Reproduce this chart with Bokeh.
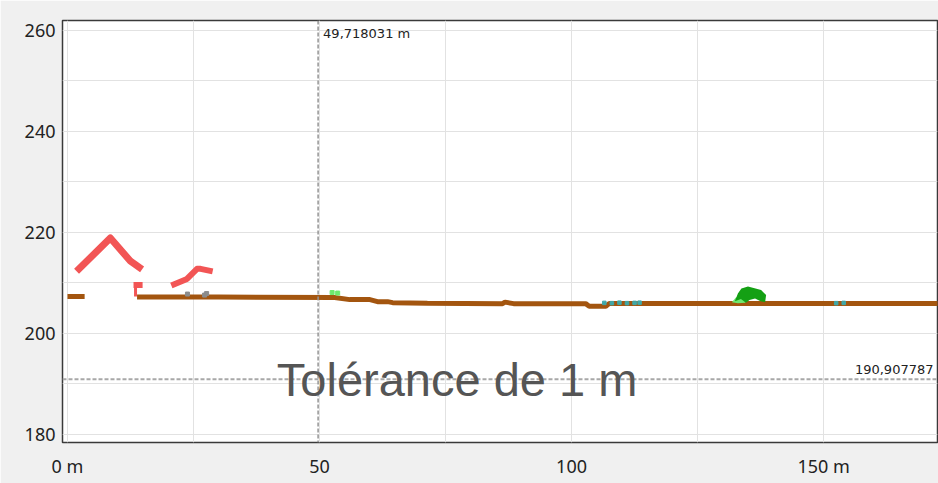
from bokeh.plotting import figure
from bokeh.models import Range1d, FixedTicker, Span, Label
from bokeh.embed import file_html
from bokeh.resources import INLINE

# ---- data ----
X_TICKS = [0, 50, 100, 150]
X_TICK_LABELS = {0: "0 m", 50: "50", 100: "100", 150: "150 m"}
X_GRID = [0, 25, 50, 75, 100, 125, 150, 175]
Y_TICKS = [180, 200, 220, 240, 260]
Y_GRID = [180, 190, 200, 210, 220, 230, 240, 250, 260]

CURSOR_X = 49.718031
CURSOR_LABEL = "49,718031 m"
TOL_Y = 190.907787
TOL_LABEL = "190,907787"
TITLE = "Tolérance de 1 m"

# ground (brown) – two pieces
GROUND_A_X = [0.0, 3.4]
GROUND_A_Y = [207.3, 207.3]
GROUND_X = [13.8, 30.0, 53.0, 56.0, 60.0, 61.5, 63.5, 64.5, 71.4, 86.3, 86.8,
            88.5, 102.8, 103.5, 106.8, 107.5, 133.0, 138.5, 174.0]
GROUND_Y = [207.2, 207.2, 207.1, 206.7, 206.7, 206.3, 206.3, 206.1, 206.0, 205.9, 206.2,
            205.9, 205.9, 205.4, 205.4, 205.95, 205.95, 205.95, 205.95]

# buildings (red)
ROOF1_X = [1.8, 8.5, 12.5, 14.8]
ROOF1_Y = [212.3, 218.9, 214.3, 212.7]
ROOF2_X = [20.6, 23.7, 25.7, 26.4, 28.8]
ROOF2_Y = [209.5, 210.8, 212.8, 212.8, 212.3]
WALL_X = [13.5, 13.5]
WALL_Y = [209.2, 207.3]
WALL_BLOCK = dict(left=13.1, right=14.9, bottom=209.0, top=210.2)

# tree (greens)
TREE_X = [132.4, 133.0, 133.7, 135.0, 136.5, 137.6, 138.6, 138.4, 137.5, 136.4, 135.3, 134.6, 133.6]
TREE_Y = [206.4, 207.9, 208.9, 209.3, 208.9, 208.6, 207.6, 206.2, 206.4, 206.9, 206.6, 206.1, 206.8]
LEAF_X = [131.8, 132.6, 133.6, 134.6, 134.5, 133.0]
LEAF_Y = [206.2, 207.1, 207.4, 206.9, 206.1, 206.0]

# scattered points
GRAY_X = [23.8, 27.2, 27.6]
GRAY_Y = [207.8, 207.6, 207.9]
LGREEN_X = [52.5, 53.6]
LGREEN_Y = [208.1, 208.0]
TEAL_X = [106.5, 108.0, 109.5, 111.0, 112.5, 113.5, 152.5, 154.0]
TEAL_Y = [206.05, 206.0, 206.1, 206.0, 206.05, 206.1, 206.0, 206.05]

BROWN = "#a3550f"
RED = "#f25555"
DARK_GREEN = "#14a014"
LIGHT_GREEN = "#6ee86e"
TEAL = "#3fa8a8"
GRAY = "#8c8c8c"

p = figure(width=938, height=483, output_backend="svg", toolbar_location=None,
           x_range=Range1d(-0.99, 172.6), y_range=Range1d(178.4, 261.98),
           min_border_left=62, min_border_top=20, min_border_right=1, min_border_bottom=41,
           background_fill_color="white", border_fill_color="#f0f0f0",
           outline_line_color="#3a3a3a", outline_line_width=1.5)

# axes
for ax in (p.xaxis[0], p.yaxis[0]):
    ax.axis_line_color = None
    ax.major_tick_out = 0
    ax.major_tick_in = 0
    ax.minor_tick_out = 0
    ax.minor_tick_in = 0
    ax.major_label_text_font = "Noto Sans"
    ax.major_label_text_font_size = "18px"
    ax.major_label_text_color = "#222222"
p.xaxis.ticker = FixedTicker(ticks=X_TICKS)
p.xaxis.major_label_overrides = X_TICK_LABELS
p.xaxis.major_label_standoff = 11
p.yaxis.ticker = FixedTicker(ticks=Y_TICKS)
p.yaxis.major_label_standoff = 7

p.xgrid.ticker = FixedTicker(ticks=X_GRID)
p.ygrid.ticker = FixedTicker(ticks=Y_GRID)
p.xgrid.grid_line_color = "#e2e2e2"
p.ygrid.grid_line_color = "#e2e2e2"

# data
p.line(GROUND_A_X, GROUND_A_Y, line_width=5, color=BROWN, line_cap="butt")
p.line(GROUND_X, GROUND_Y, line_width=5, color=BROWN, line_cap="butt")
p.scatter(GRAY_X, GRAY_Y, marker="square", size=4, color=GRAY)
p.scatter(LGREEN_X, LGREEN_Y, marker="square", size=4, color=LIGHT_GREEN)
p.scatter(TEAL_X, TEAL_Y, marker="square", size=3.5, color=TEAL)

p.line(ROOF1_X, ROOF1_Y, line_width=7, color=RED, line_join="round")
p.line(ROOF2_X, ROOF2_Y, line_width=6, color=RED, line_join="round")
p.line(WALL_X, WALL_Y, line_width=3, color=RED)
p.quad(color=RED, line_color=None, **{k: [v] for k, v in WALL_BLOCK.items()})

p.patch(LEAF_X, LEAF_Y, color=LIGHT_GREEN, line_color=None)
p.patch(TREE_X, TREE_Y, color=DARK_GREEN, line_color=None)

# cursor lines
p.add_layout(Span(location=CURSOR_X, dimension="height", line_color="#949494",
                  line_width=1.5, line_dash="4 2"))
p.add_layout(Span(location=TOL_Y, dimension="width", line_color="#a8a8a8",
                  line_width=2, line_dash="4 2"))
p.add_layout(Label(x=CURSOR_X, y=p.y_range.end, x_offset=5, y_offset=-5,
                   text=CURSOR_LABEL, text_baseline="top", text_align="left",
                   text_font="DejaVu Sans", text_font_size="13px", text_color="#222222"))
p.add_layout(Label(x=p.x_range.end, y=TOL_Y, x_offset=-4, y_offset=5,
                   text=TOL_LABEL, text_baseline="bottom", text_align="right",
                   text_font="DejaVu Sans", text_font_size="13px", text_color="#222222"))
p.add_layout(Label(x=77.3, y=187.7, y_offset=16, text=TITLE, text_align="center",
                   text_baseline="alphabetic", text_font="Liberation Sans",
                   text_font_size="47px", text_color="#555555"))

open("out.html", "w").write(file_html(p, INLINE))
